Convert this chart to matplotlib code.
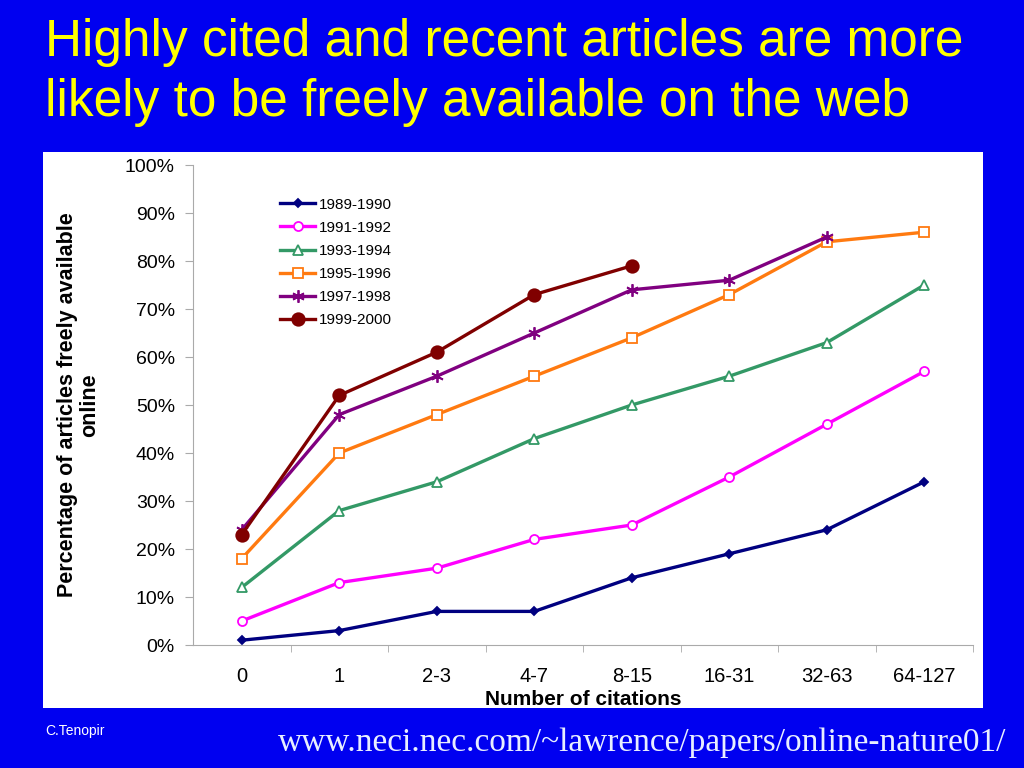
import matplotlib
matplotlib.use("Agg")
from matplotlib import pyplot as plt
from matplotlib.patches import Rectangle
from matplotlib.ticker import FuncFormatter

categories = ["0", "1", "2-3", "4-7", "8-15", "16-31", "32-63", "64-127"]

y1989 = [1, 3, 7, 7, 14, 19, 24, 34]
y1991 = [5, 13, 16, 22, 25, 35, 46, 57]
y1993 = [12, 28, 34, 43, 50, 56, 63, 75]
y1995 = [18, 40, 48, 56, 64, 73, 84, 86]
y1997 = [24, 48, 56, 65, 74, 76, 85]
y1999 = [23, 52, 61, 73, 79]

series = [
    ("1989-1990", y1989, "#000080", "D", "#000080", 4.5),
    ("1991-1992", y1991, "#ff00ff", "o", "white", 6.5),
    ("1993-1994", y1993, "#339966", "^", "white", 6.5),
    ("1995-1996", y1995, "#ff7a10", "s", "white", 6.5),
    ("1997-1998", y1997, "#800080", (6, 2, 0), "#800080", 9),
    ("1999-2000", y1999, "#800000", "o", "#800000", 9),
]

plt.rcParams["font.family"] = ["Liberation Sans", "DejaVu Sans"]

fig = plt.figure(figsize=(10.24, 7.68), dpi=100)
fig.patch.set_facecolor("#0000f0")

# white chart panel
fig.patches.append(Rectangle((43 / 1024, 1 - 708 / 768), 940 / 1024, 556 / 768,
                             transform=fig.transFigure, facecolor="white",
                             edgecolor="none", zorder=-5))

fig.text(45 / 1024, 1 - 56 / 768, "Highly cited and recent articles are more",
         color="#ffff00", fontsize=37, va="baseline", ha="left")
fig.text(45 / 1024, 1 - 116 / 768, "likely to be freely available on the web",
         color="#ffff00", fontsize=37, va="baseline", ha="left")

ax = fig.add_axes([193 / 1024, 1 - 645 / 768, 780 / 1024, 480 / 768])
ax.set_zorder(1)
ax.set_facecolor("white")

x = list(range(len(categories)))
for name, vals, color, marker, face, size in series:
    ax.plot(x[:len(vals)], vals, color=color, linewidth=2.4, marker=marker,
            markersize=size, markerfacecolor=face, markeredgecolor=color,
            markeredgewidth=1.3, label=name)

ax.set_xlim(-0.5, len(categories) - 0.5)
ax.set_ylim(0, 100)
ax.set_yticks(range(0, 101, 10))
ax.yaxis.set_major_formatter(FuncFormatter(lambda v, p: f"{int(v)}%"))
ax.set_xticks(x)
ax.set_xticklabels(categories)
ax.set_xticks([i + 0.5 for i in x], minor=True)
ax.tick_params(axis="x", which="major", length=0, labelsize=14.5, pad=16)
ax.tick_params(axis="x", which="minor", length=5, color="#aaaaaa", direction="out")
ax.tick_params(axis="y", length=6, color="#aaaaaa", labelsize=14, pad=7)

for s in ["top", "right"]:
    ax.spines[s].set_visible(False)
for s in ["left", "bottom"]:
    ax.spines[s].set_color("#aaaaaa")

ax.set_xlabel("Number of citations", fontsize=15, fontweight="bold")
ax.xaxis.set_label_coords(0.5, -0.094)
ax.set_ylabel("Percentage of articles freely available\nonline", fontsize=15.5,
              fontweight="bold", linespacing=1.1)
ax.yaxis.set_label_coords(-0.119, 0.5)

ax.legend(loc="upper left", bbox_to_anchor=(0.111, 0.932), frameon=False,
          fontsize=11, handlelength=2.35, handletextpad=0.2,
          labelspacing=0.6, borderaxespad=0, borderpad=0)

fig.text(45 / 1024, 1 - 731 / 768, "C.Tenopir", color="white", fontsize=10, va="center")
fig.text(278 / 1024, 1 - 751 / 768, "www.neci.nec.com/~lawrence/papers/online-nature01/",
         color="#e8eeff", fontsize=24, va="baseline",
         family=["Liberation Serif", "DejaVu Serif"])

fig.savefig("out.png", dpi=100, facecolor=fig.get_facecolor())
